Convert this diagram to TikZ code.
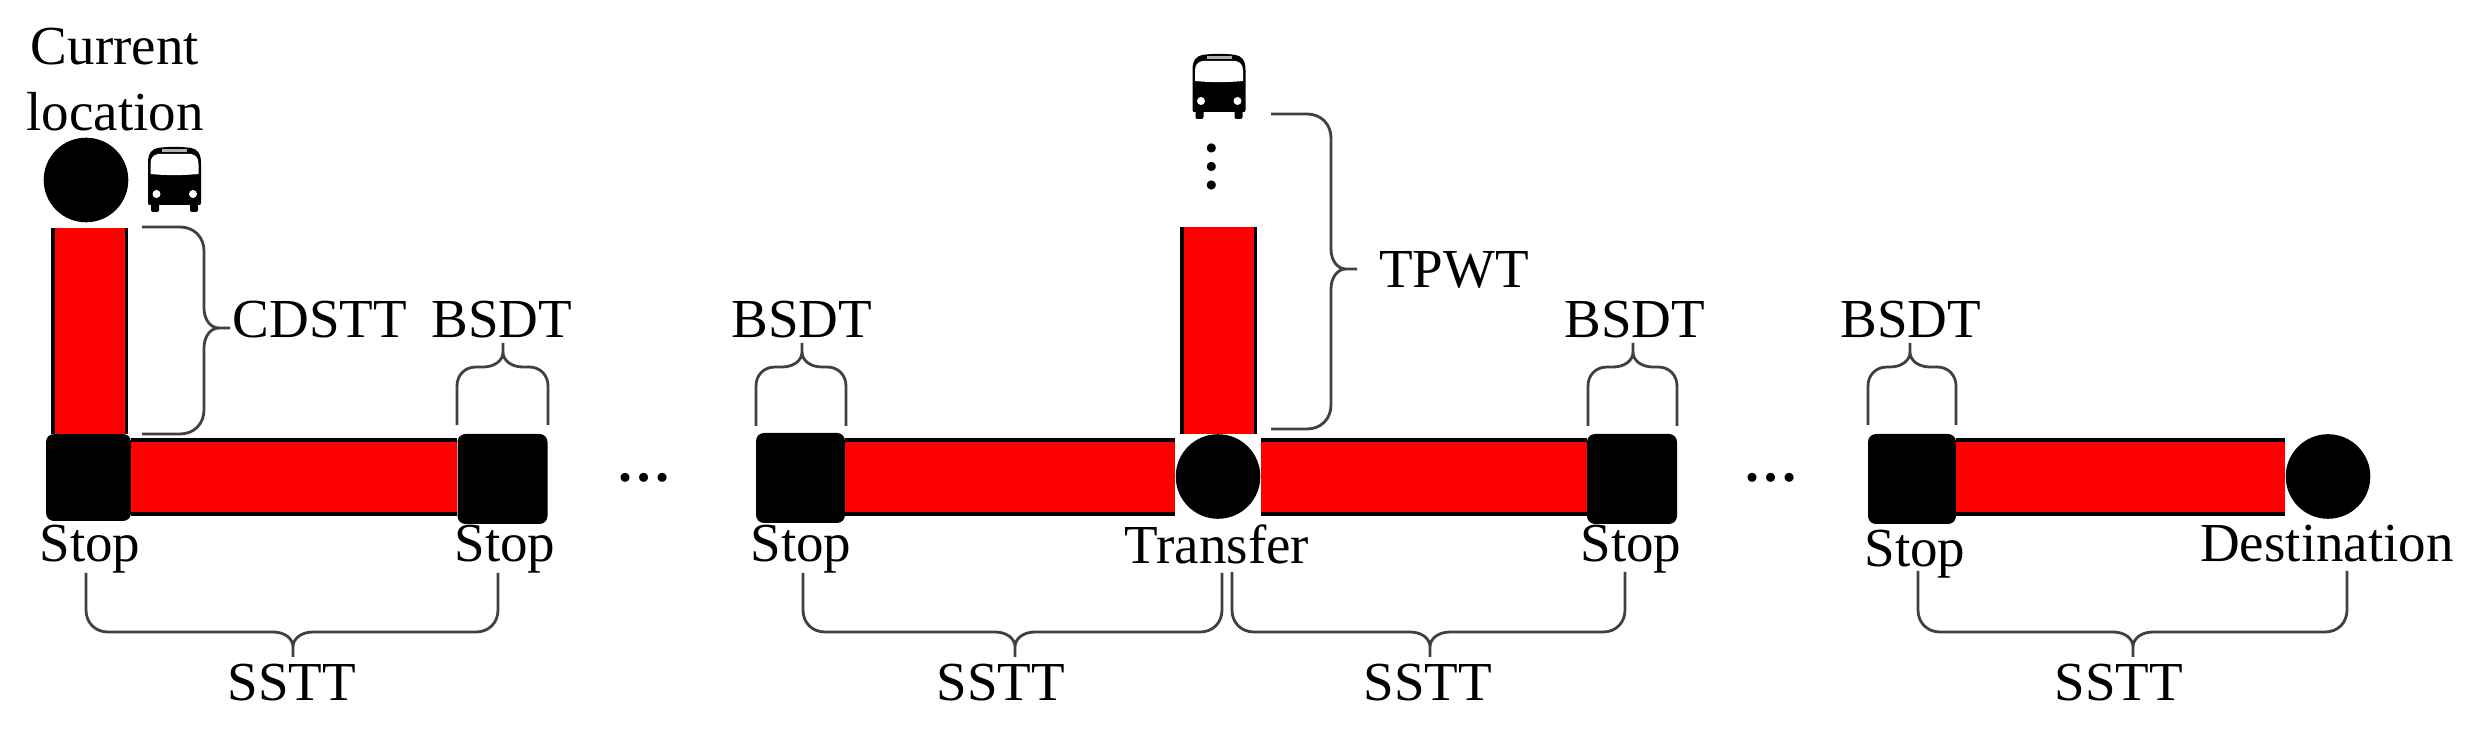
\documentclass[tikz,border=0pt]{standalone}
\usepackage{fontspec}
\setmainfont{Liberation Serif}
\newcommand{\HBrace}[7]{% x1 x2 xtip y0 yh ytip r
  \pgfmathsetmacro{\sg}{((#5)>(#4))?1:-1}
  \draw[bracestroke] (#1,#4) -- (#1,{#5-\sg*#7})
    .. controls (#1,{#5-\sg*0.42*#7}) and ({#1+0.42*#7},#5) .. ({#1+#7},#5)
    -- ({#3-20},#5)
    .. controls ({#3-9},#5) and (#3,{#5+\sg*6}) .. (#3,{#5+\sg*15}) -- (#3,#6) -- (#3,{#5+\sg*15})
    .. controls (#3,{#5+\sg*6}) and ({#3+9},#5) .. ({#3+20},#5)
    -- ({#2-#7},#5)
    .. controls ({#2-0.42*#7},#5) and (#2,{#5-\sg*0.42*#7}) .. (#2,{#5-\sg*#7}) -- (#2,#4);
}
\newcommand{\VBrace}[7]{% y1 y2 ytip x0 xv xtip r
  \draw[bracestroke] (#4,#1) -- ({#5-#7},#1)
    .. controls ({#5-0.42*#7},#1) and (#5,{#1+0.42*#7}) .. (#5,{#1+#7})
    -- (#5,{#3-20})
    .. controls (#5,{#3-9}) and ({#5+6},#3) .. ({#5+15},#3) -- (#6,#3) -- ({#5+15},#3)
    .. controls ({#5+6},#3) and (#5,{#3+9}) .. (#5,{#3+20})
    -- (#5,{#2-#7})
    .. controls (#5,{#2-0.42*#7}) and ({#5-0.42*#7},#2) .. ({#5-#7},#2) -- (#4,#2);
}
\tikzset{
  stopbox/.style={rectangle,fill=black,rounded corners=4pt,inner sep=0pt,minimum height=45pt},
  endpoint/.style={circle,fill=black,inner sep=0pt,minimum size=42.3pt},
  lbl/.style={anchor=base,inner sep=0pt,font=\fontsize{27.5}{33}\selectfont},
  dotsnode/.style={anchor=base,inner sep=0pt,font=\fontsize{27.5}{33}\selectfont\bfseries},
  redbar/.style={draw=black,line width=1.8pt,double=red,double distance=35pt},
  bracestroke/.style={draw=black!75,line width=1.4pt},
  pics/busicon/.style={code={
    \fill[black] (0,56) -- (0,16) .. controls (0,6) and (4,2) .. (10,1)
      .. controls (18,-0.5) and (35,-0.5) .. (43,1)
      .. controls (49,2) and (53,6) .. (53,16) -- (53,56)
      .. controls (53,58) and (52,58) .. (50,58) -- (3,58)
      .. controls (1,58) and (0,58) .. (0,56) -- cycle;
    \fill[black,rounded corners=1pt] (3,56) rectangle (11,65);
    \fill[black,rounded corners=1pt] (42,56) rectangle (50,65);
    \fill[white] (2.5,27) -- (2.5,17) .. controls (2.5,11) and (5,8) .. (10,7)
      -- (43,7) .. controls (48,8) and (50.5,11) .. (50.5,17) -- (50.5,27)
      .. controls (35,28.5) and (18,28.5) .. (2.5,27) -- cycle;
    \fill[black!30] (14,2) rectangle (39,5);
    \fill[white] (8.5,47) circle (4);
    \fill[white] (45,47) circle (4);
  }}
}
\begin{document}
\begin{tikzpicture}[x=0.5pt,y=-0.5pt]
\useasboundingbox (0,0) rectangle (2480,731);
\coordinate (rail) at (0,477);
% stops and end points
\node[stopbox,minimum width=42.5pt,minimum height=43.5pt] (s1) at (88.5,477.5) {};
\node[stopbox,minimum width=45pt] (s2) at (502.5,479) {};
\node[stopbox,minimum width=44.5pt] (s3) at (800.5,478) {};
\node[stopbox,minimum width=45pt] (s4) at (1632,479) {};
\node[stopbox,minimum width=44pt] (s5) at (1912,479) {};
\node[endpoint] (origin) at (86,180) {};
\node[endpoint] (transfer) at (1218,476.5) {};
\node[endpoint] (dest) at (2328,476.5) {};
\coordinate (topA) at (89.5,228);
\coordinate (topB) at (1218.5,227);
% bars
\draw[redbar] (topA) -- (topA |- s1.north);
\draw[redbar] (topB) -- (topB |- transfer.north);
\draw[redbar] (s1.east |- rail) -- (s2.west |- rail);
\draw[redbar] (s3.east |- rail) -- (transfer.west |- rail);
\draw[redbar] (transfer.east |- rail) -- (s4.west |- rail);
\draw[redbar] (s5.east |- rail) -- (dest.west |- rail);
% buses
\pic (busA) at (148,147) {busicon};
\pic (busB) at (1192.5,54) {busicon};
% vertical dots
\node[anchor=center,inner sep=0pt,rotate=90,font=\fontsize{27.5}{33}\selectfont\bfseries] (vdots) at (1212,167) {…};
% horizontal dots
\node[dotsnode] (dotsA) at (644,482) {…};
\node[dotsnode] (dotsB) at (1771,482) {…};
% labels
\node[lbl] (cur) at (115,65) {Current};
\node[lbl] (loc) at (115,131) {location};
\node[lbl] (cdstt) at (320,338) {CDSTT};
\node[lbl] (bsdtA) at (502,338) {BSDT};
\node[lbl] (bsdtB) at (802,338) {BSDT};
\node[lbl] (bsdtC) at (1635,338) {BSDT};
\node[lbl] (bsdtD) at (1911,338) {BSDT};
\node[lbl] (tpwt) at (1454,288) {TPWT};
\node[lbl] (stopA) at (90,562) {Stop};
\node[lbl] (stopB) at (505,562) {Stop};
\node[lbl] (stopC) at (801,562) {Stop};
\node[lbl] (transferL) at (1217,564) {Transfer};
\node[lbl] (stopD) at (1631,562) {Stop};
\node[lbl] (stopE) at (1915,567) {Stop};
\node[lbl] (destL) at (2327,562) {Destination};
\node[lbl] (ssttA) at (292,701) {SSTT};
\node[lbl] (ssttB) at (1001,701) {SSTT};
\node[lbl] (ssttC) at (1428,701) {SSTT};
\node[lbl] (ssttD) at (2119,701) {SSTT};
% braces
\VBrace{227}{434}{328}{142}{204}{230}{24}
\VBrace{114}{429}{269}{1271}{1331}{1357}{24}
\HBrace{457}{548}{503}{425}{367}{343}{19}
\HBrace{756}{846}{802}{426}{367}{343}{19}
\HBrace{1588}{1677}{1633}{426}{367}{343}{19}
\HBrace{1868}{1956}{1910}{425}{367}{343}{19}
\HBrace{86}{498}{293}{573}{632}{657}{22}
\HBrace{803}{1222}{1015}{573}{632}{657}{22}
\HBrace{1232}{1625}{1430}{572}{632}{657}{22}
\HBrace{1918}{2347}{2133}{571}{632}{657}{22}
\end{tikzpicture}
\end{document}
